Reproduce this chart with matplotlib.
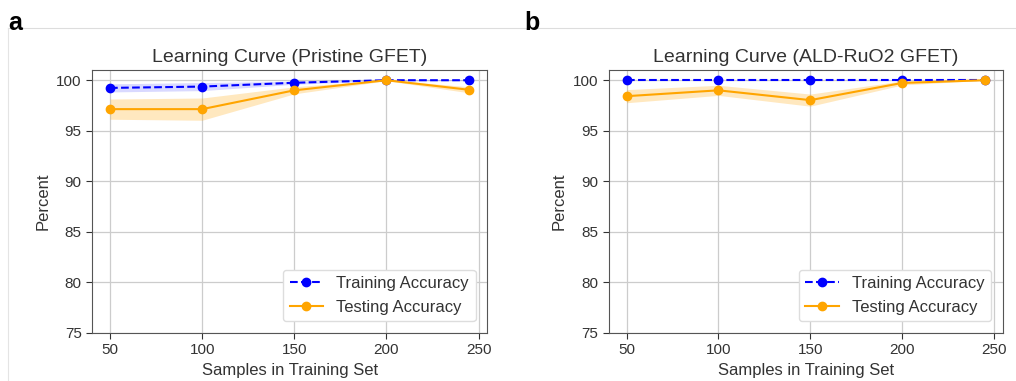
import matplotlib
matplotlib.use("Agg")
import matplotlib.pyplot as plt
from matplotlib.lines import Line2D
import numpy as np

plt.rcParams["font.family"] = ["Liberation Sans", "DejaVu Sans"]

amostras = [50, 100, 150, 200, 245]

# Painel a: GFET pristino
treino_a = [99.24, 99.37, 99.75, 100.0, 100.0]
treino_a_std = [0.4, 0.4, 0.15, 0.05, 0.05]
teste_a = [97.14, 97.14, 99.0, 100.0, 99.05]
teste_a_std = [1.0, 1.1, 0.35, 0.05, 0.3]

# Painel b: GFET com ALD-RuO2
treino_b = [100.0, 100.0, 100.0, 100.0, 100.0]
treino_b_std = [0.0, 0.0, 0.0, 0.0, 0.0]
teste_b = [98.42, 99.0, 98.03, 99.73, 100.0]
teste_b_std = [0.65, 0.5, 0.6, 0.2, 0.0]

titulos = ["Learning Curve (Pristine GFET)", "Learning Curve (ALD-RuO2 GFET)"]
letras = ["a", "b"]


def plotar_curva(ax, treino, treino_std, teste, teste_std, titulo):
    treino = np.array(treino)
    teste = np.array(teste)
    treino_std = np.array(treino_std)
    teste_std = np.array(teste_std)

    ax.plot(amostras, treino, color="blue", marker="o", markersize=6,
            linestyle="--", label="Training Accuracy")
    ax.fill_between(amostras, treino - treino_std, treino + treino_std,
                    alpha=0.15, color="blue", linewidth=0)
    ax.plot(amostras, teste, color="orange", marker="o", markersize=6,
            label="Testing Accuracy")
    ax.fill_between(amostras, teste - teste_std, teste + teste_std,
                    alpha=0.25, color="orange", linewidth=0)

    ax.set_title(titulo, fontsize=14, color="#333333", pad=6)
    ax.set_xlabel("Samples in Training Set", fontsize=12, color="#333333")
    ax.set_ylabel("Percent", fontsize=12, color="#333333")
    ax.set_ylim(75, 101)
    ax.set_xticks([50, 100, 150, 200, 250])
    ax.set_yticks([75, 80, 85, 90, 95, 100])
    ax.tick_params(labelsize=11, colors="#333333", length=4)
    ax.grid(True, color="#cccccc", linewidth=0.9)
    ax.set_axisbelow(True)
    for sp in ax.spines.values():
        sp.set_color("#555555")
    ax.legend(loc="lower right", fontsize=12, framealpha=1,
              edgecolor="#dddddd", borderaxespad=0.7, labelcolor="#333333")


fig = plt.figure(figsize=(10.16, 3.81), dpi=100)
ax1 = fig.add_axes([0.0906, 0.126, 0.389, 0.690])
ax2 = fig.add_axes([0.599, 0.126, 0.388, 0.690])

plotar_curva(ax1, treino_a, treino_a_std, teste_a, teste_a_std, titulos[0])
plotar_curva(ax2, treino_b, treino_b_std, teste_b, teste_b_std, titulos[1])

# moldura clara da captura original
y_linha = 1 - 28 / 381
x_linha = 8 / 1016
fig.add_artist(Line2D([x_linha, 1], [y_linha, y_linha], color="#dddddd", linewidth=0.8))
fig.add_artist(Line2D([x_linha, x_linha], [0, y_linha], color="#e4e4e4", linewidth=0.8))

fig.text(0.008, 0.972, letras[0], fontsize=18, fontweight="bold", va="top")
fig.text(0.516, 0.972, letras[1], fontsize=18, fontweight="bold", va="top")

fig.savefig("out.png", dpi=100)
plt.close(fig)
